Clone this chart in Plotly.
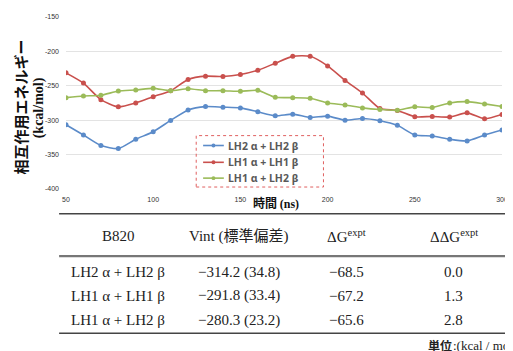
import plotly.graph_objects as go

# ---------------- data ----------------
time_ns = [50, 60, 70, 80, 90, 100, 110, 120, 130, 140, 150, 160, 170, 180, 190,
           200, 210, 220, 230, 240, 250, 260, 270, 280, 290, 300]
lh2_lh2 = [-306.6, -321.5, -336.8, -341.2, -327.7, -316.7, -300.3, -285.0, -280.2, -281.1,
           -282.1, -287.8, -293.6, -291.2, -296.0, -294.1, -299.9, -297.5, -300.8, -307.5,
           -321.5, -322.9, -327.7, -330.1, -321.5, -314.3]
lh1_lh1 = [-231.2, -246.1, -270.1, -280.6, -274.9, -265.8, -257.1, -240.8, -236.0, -236.5,
           -233.6, -227.3, -217.2, -207.2, -207.2, -221.1, -242.2, -260.5, -283.0, -285.9,
           -295.0, -294.6, -295.5, -289.3, -297.9, -291.7]
lh1_lh2 = [-267.2, -264.8, -263.8, -257.6, -256.1, -253.7, -257.1, -254.2, -257.1, -257.1,
           -258.0, -256.6, -266.7, -267.2, -268.2, -274.9, -277.8, -282.1, -284.5, -285.4,
           -280.6, -281.6, -274.9, -273.0, -276.3, -280.1]
series_names = ["LH2 α + LH2 β", "LH1 α + LH1 β", "LH1 α + LH2 β"]
series_colors = ["#5B8BC9", "#C9504D", "#9BBB59"]

y_ticks = [-400, -350, -300, -250, -200, -150]
x_ticks = [50, 100, 150, 200, 250, 300]

# table
table_header = ["B820", "Vint (標準偏差)", "ΔG<sup>expt</sup>", "ΔΔG<sup>expt</sup>"]
table_rows = [
    ["LH2 α + LH2 β", "−314.2 (34.8)", "−68.5", "0.0"],
    ["LH1 α + LH1 β", "−291.8 (33.4)", "−67.2", "1.3"],
    ["LH1 α + LH2 β", "−280.3 (23.2)", "−65.6", "2.8"],
]
unit_label = "単位"
unit_value = ":(kcal / mol)"

# ---------------- layout helpers (window pixel -> paper) ----------------
OFF = 8  # default page body margin
W, H = 513 - OFF, 351 - OFF
PL, PR, PT, PB = 66, 508, 15, 189          # plot area in window pixels
ML, MR, MT, MB = PL - OFF, W - (PR - OFF), PT - OFF, H - (PB - OFF)
PW, PH = W - ML - MR, H - MT - MB


def px(x):
    return (x - OFF - ML) / PW


def py(y):
    return (H - MB - (y - OFF)) / PH


fig = go.Figure()
for name, vals, col in zip(series_names, [lh2_lh2, lh1_lh1, lh1_lh2], series_colors):
    fig.add_trace(go.Scatter(
        x=time_ns, y=vals, name=name, mode="lines+markers",
        line=dict(color=col, width=1.6, shape="spline", smoothing=0.6),
        marker=dict(color=col, size=5), showlegend=False,
    ))

serif = "Liberation Serif, Noto Sans CJK JP, serif"
sans_b = "Noto Sans CJK JP, Noto Sans, sans-serif"

annotations = []
shapes = []

# axis titles
annotations.append(dict(
    xref="paper", yref="paper", x=px(20), y=py(106), showarrow=False,
    text="<b>相互作用エネルギー</b>", textangle=-90,
    font=dict(family=sans_b, size=15, color="#111"),
    xanchor="center", yanchor="middle"))
annotations.append(dict(
    xref="paper", yref="paper", x=px(39), y=py(107), showarrow=False,
    text="<b>(kcal/mol)</b>", textangle=-90,
    font=dict(family="Liberation Serif, serif", size=14, color="#111"),
    xanchor="center", yanchor="middle"))
annotations.append(dict(
    xref="paper", yref="paper", x=px(279), y=py(203), showarrow=False,
    text="<b>時間 <span style='font-family:Liberation Serif'>(ns)</span></b>",
    font=dict(family=sans_b, size=12, color="#111"),
    xanchor="center", yanchor="middle"))

# legend (drawn manually) with dotted frame
shapes.append(dict(type="rect", xref="paper", yref="paper",
                   x0=px(198), x1=px(327), y0=py(187), y1=py(135),
                   line=dict(color="#E06060", width=1, dash="dot")))
legend_y = [145, 162, 178]
for ly, name, col in zip(legend_y, series_names, series_colors):
    shapes.append(dict(type="line", xref="paper", yref="paper",
                       x0=px(205), x1=px(226), y0=py(ly), y1=py(ly),
                       line=dict(color=col, width=1.6)))
    shapes.append(dict(type="circle", xref="paper", yref="paper",
                       x0=px(213.5), x1=px(217.5), y0=py(ly + 2), y1=py(ly - 2),
                       fillcolor=col, line=dict(color=col, width=0)))
    annotations.append(dict(
        xref="paper", yref="paper", x=px(228), y=py(ly), showarrow=False,
        text="<b>" + name + "</b>",
        font=dict(family="Noto Sans, sans-serif", size=10.5, color="#595959"),
        xanchor="left", yanchor="middle"))

# table lines
for ly, lc, lw in [(214, "#444", 1.5), (257, "#777", 2.2), (335, "#444", 1.5)]:
    shapes.append(dict(type="line", xref="paper", yref="paper",
                       x0=px(59), x1=px(520), y0=py(ly), y1=py(ly),
                       line=dict(color=lc, width=lw)))

col_x = [119, 241, 350, 459]
header_y = 237
row_y = [273, 297, 322]
for cx, txt in zip(col_x, table_header):
    annotations.append(dict(
        xref="paper", yref="paper", x=px(cx), y=py(header_y), showarrow=False,
        text=txt, font=dict(family=serif, size=15, color="#222"),
        xanchor="center", yanchor="middle"))
for ry, row in zip(row_y, table_rows):
    for cx, txt in zip(col_x, row):
        annotations.append(dict(
            xref="paper", yref="paper", x=px(cx), y=py(ry), showarrow=False,
            text=txt, font=dict(family=serif, size=15, color="#222"),
            xanchor="center", yanchor="middle"))
annotations.append(dict(
    xref="paper", yref="paper", x=px(431), y=py(347), showarrow=False,
    text="<b>" + unit_label + "</b>", font=dict(family=sans_b, size=12, color="#222"),
    xanchor="left", yanchor="middle"))
annotations.append(dict(
    xref="paper", yref="paper", x=px(456), y=py(347), showarrow=False,
    text=unit_value, font=dict(family=serif, size=13, color="#222"),
    xanchor="left", yanchor="middle"))

fig.update_layout(
    width=W, height=H,
    margin=dict(l=ML, r=MR, t=MT, b=MB, pad=0),
    paper_bgcolor="white", plot_bgcolor="white",
    showlegend=False,
    annotations=annotations,
    shapes=shapes,
    xaxis=dict(range=[50, 300], tickvals=x_ticks, ticktext=[str(v) for v in x_ticks],
               showgrid=False, zeroline=False, showline=False, ticks="",
               ticklabeloverflow="allow",
               tickfont=dict(family="Liberation Sans, sans-serif", size=7, color="#333"),
               ticklabelstandoff=5),
    yaxis=dict(range=[-400, -150], tickvals=y_ticks, ticktext=[str(v) for v in y_ticks],
               showgrid=True, gridcolor="#E3E3E3", gridwidth=1,
               zeroline=False, showline=False, ticks="",
               tickfont=dict(family="Liberation Sans, sans-serif", size=7, color="#333"),
               ticklabelstandoff=6),
)

fig.write_html("out.html")
